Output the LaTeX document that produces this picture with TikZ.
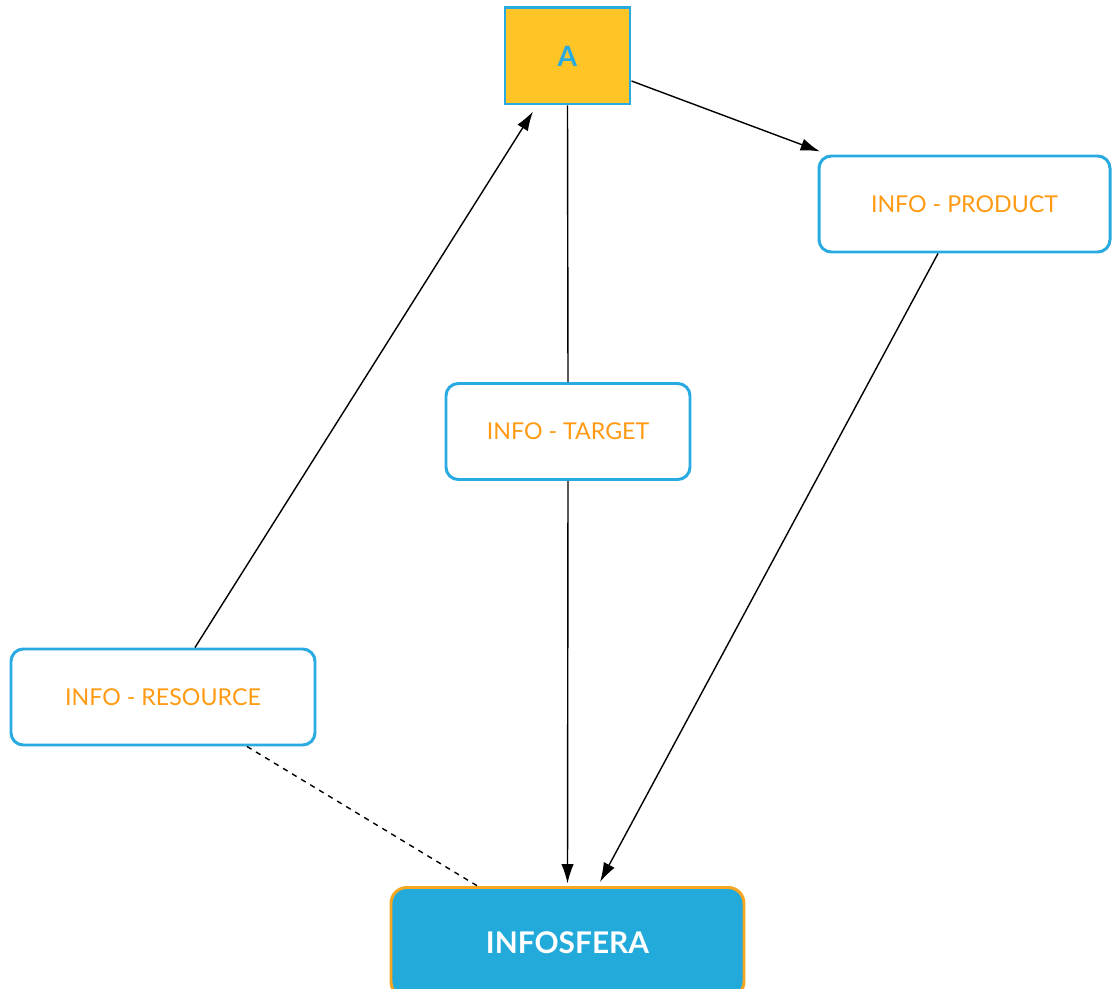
\documentclass[tikz,border=0pt]{standalone}
\usepackage{fontspec}
\setmainfont{Lato}
\usepackage{tikz}
\usetikzlibrary{arrows.meta}

\definecolor{cyanline}{HTML}{29ABE2}
\definecolor{infoorange}{HTML}{FF9A12}
\definecolor{agentyellow}{HTML}{FFC425}
\definecolor{sferablue}{HTML}{22AADB}
\definecolor{sferaborder}{HTML}{F5A623}

\begin{document}
\begin{tikzpicture}[x=0.02cm, y=-0.02cm,
    infobox/.style={draw=cyanline, line width=1.7pt, rounded corners=7pt, fill=white,
        minimum width=#1*0.02cm, minimum height=96*0.02cm, text=infoorange,
        font=\fontsize{13.2}{15}\selectfont},
    agentbox/.style={draw=cyanline, line width=1.7pt, fill=agentyellow, text=cyanline,
        minimum width=125*0.02cm, minimum height=96*0.02cm, font=\fontsize{16}{18}\selectfont\bfseries},
    sferabox/.style={draw=sferaborder, line width=1.7pt, rounded corners=9pt, fill=sferablue, text=white,
        minimum width=353*0.02cm, minimum height=110*0.02cm, font=\fontsize{17}{19}\selectfont\bfseries},
    link/.style={line width=0.8pt, black},
    arr/.style={link, -{Latex[length=11pt, width=7pt]}}]
            \useasboundingbox (0, 0) rectangle (1113, 989);
            % nodes
            \node[agentbox] (agent) at (567.5, 56) {A};
            \node[infobox=291] (product) at (964.5, 204) {INFO - PRODUCT};
            \node[infobox=244] (target) at (568, 431.5) {INFO - TARGET};
            \node[infobox=304] (resource) at (163, 697) {INFO - RESOURCE};
            \node[sferabox, anchor=north] (sfera) at (567.5, 886) {INFOSFERA};
            % links
            \draw[link] (agent.south) -- (target.north);
            \draw[arr] (target.south) -- ([yshift=0.05cm]sfera.north);
            \draw[arr] (agent.east |- 0, 81) -- ([xshift=0.05cm, yshift=0.06cm]product.north west);
            \draw[arr] (product.south -| 938, 0) -- ([xshift=0.65cm, yshift=0.08cm]sfera.north);
            \draw[arr] (resource.north -| 195, 0) -- ([xshift=-0.69cm, yshift=-0.12cm]agent.south);
            \draw[link, dashed] (resource.south -| 247, 0) -- ([xshift=-1.8cm]sfera.north);
        \end{tikzpicture}
\end{document}
